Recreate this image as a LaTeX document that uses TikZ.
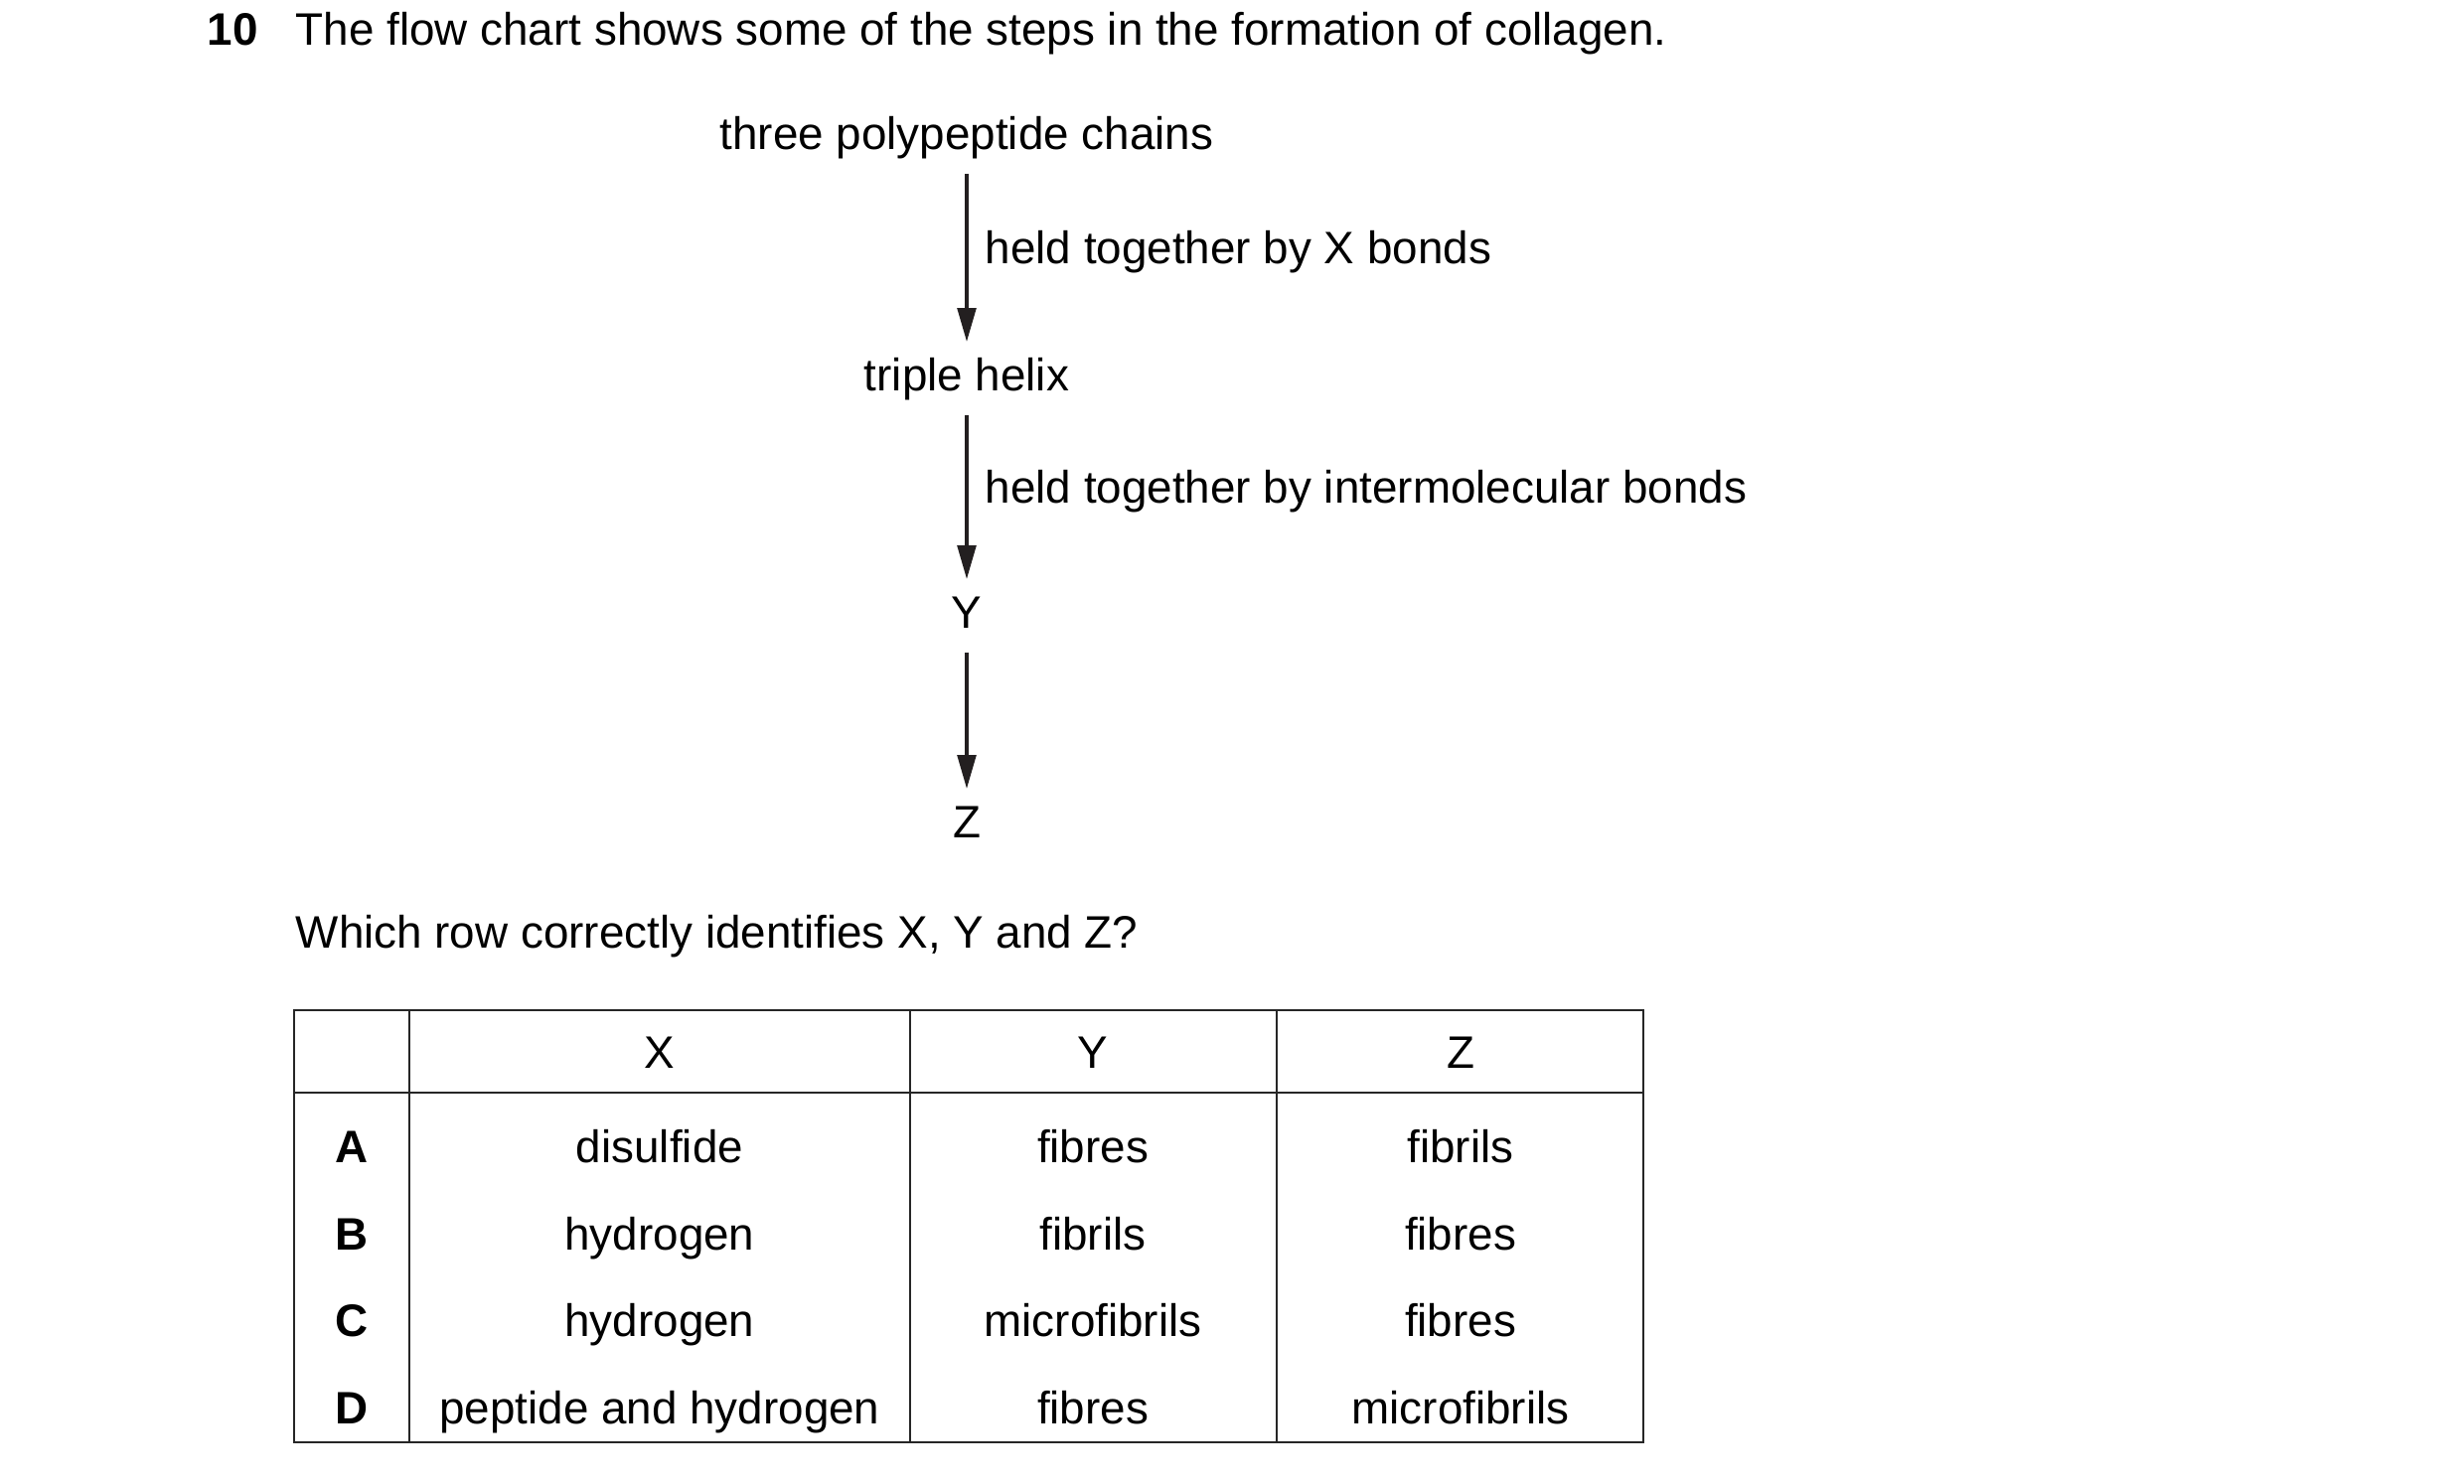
\documentclass[tikz,border=0pt]{standalone}
\usepackage{fontspec}
\setmainfont{Liberation Sans}
\usetikzlibrary{arrows.meta}
\definecolor{ink}{HTML}{231F20}
\newcommand{\qfont}{\fontsize{11.45}{14}\selectfont}
\tikzset{
  txt/.style={inner sep=0pt, anchor=base west, font=\qfont},
  ctxt/.style={inner sep=0pt, anchor=base, font=\qfont},
  flownode/.style={inner xsep=0pt, inner ysep=3.5pt, anchor=base, text height=8.5pt, text depth=2.5pt, font=\qfont},
  flowarrow/.style={draw=ink, line width=1pt, -{Triangle[length=8.5pt,width=4.6pt]}},
  grid/.style={draw=black!85, line width=0.6pt},
  rowlabel/.style={inner sep=0pt, anchor=base, font=\qfont\bfseries},
}
\begin{document}
\begin{tikzpicture}[x=0.25pt, y=-0.25pt]
\useasboundingbox (0,0) rectangle (2480,1493);
% question header
\node[txt, font=\qfont\bfseries] (num) at (208,45) {10};
\node[txt] (q) at (297,45) {The flow chart shows some of the steps in the formation of collagen.};
% flow chart
\node[flownode] (chains) at (973,150) {three polypeptide chains};
\node[flownode] (helix) at (973,393) {triple helix};
\node[flownode] (Y) at (973,632) {Y};
\node[flownode] (Z) at (973,843) {Z};
\draw[flowarrow] (chains.south) -- (helix.north);
\draw[flowarrow] (helix.south) -- (Y.north);
\draw[flowarrow] (Y.south) -- (Z.north);
\node[txt] (l1) at (991,265) {held together by X bonds};
\node[txt] (l2) at (991,506) {held together by intermolecular bonds};
% question
\node[txt] (which) at (297,954) {Which row correctly identifies X, Y and Z?};
% table grid
\draw[grid] (296,1017) rectangle (1654,1452);
\draw[grid] (296,1100) -- (1654,1100);
\draw[grid] (412,1017) -- (412,1452);
\draw[grid] (916,1017) -- (916,1452);
\draw[grid] (1285,1017) -- (1285,1452);
% header
\node[ctxt] (hX) at (664,1075) {X};
\node[ctxt] (hY) at (1100,1075) {Y};
\node[ctxt] (hZ) at (1470,1075) {Z};
% rows
\node[rowlabel] (rA) at (354,1170) {A};
\node[ctxt] (aX) at (664,1170) {disulfide};
\node[ctxt] (aY) at (1100,1170) {fibres};
\node[ctxt] (aZ) at (1470,1170) {fibrils};
\node[rowlabel] (rB) at (354,1258) {B};
\node[ctxt] (bX) at (664,1258) {hydrogen};
\node[ctxt] (bY) at (1100,1258) {fibrils};
\node[ctxt] (bZ) at (1470,1258) {fibres};
\node[rowlabel] (rC) at (354,1345) {C};
\node[ctxt] (cX) at (664,1345) {hydrogen};
\node[ctxt] (cY) at (1100,1345) {microfibrils};
\node[ctxt] (cZ) at (1470,1345) {fibres};
\node[rowlabel] (rD) at (354,1433) {D};
\node[ctxt] (dX) at (664,1433) {peptide and hydrogen};
\node[ctxt] (dY) at (1100,1433) {fibres};
\node[ctxt] (dZ) at (1470,1433) {microfibrils};
\end{tikzpicture}
\end{document}
